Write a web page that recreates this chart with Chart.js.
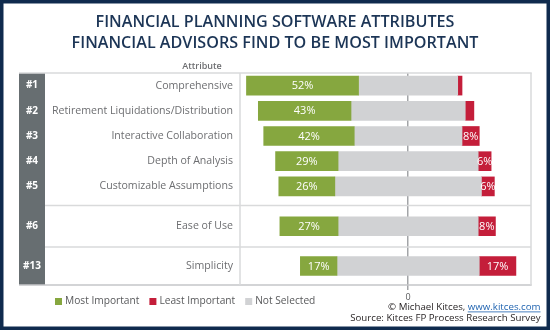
<!DOCTYPE html>
<html>
<head>
<meta charset="utf-8">
<script src="https://cdn.jsdelivr.net/npm/chart.js@4/dist/chart.umd.min.js"></script>
<style>
html,body{margin:0;padding:0;background:#0f2b4e;}
canvas{display:block;}
</style>
</head>
<body>
<canvas id="c" width="550" height="330"></canvas>
<script>
// ---- data ----
const ranks = ['#1', '#2', '#3', '#4', '#5', '#6', '#13'];
const attributes = [
  'Comprehensive',
  'Retirement Liquidations/Distribution',
  'Interactive Collaboration',
  'Depth of Analysis',
  'Customizable Assumptions',
  'Ease of Use',
  'Simplicity'
];
const mostImportant  = [52, 43, 42, 29, 26, 27, 17];
const leastImportant = [2, 4, 8, 6, 6, 8, 17];
const notSelected    = [46, 53, 50, 65, 68, 65, 66];
const sectionSizes   = [5, 1, 1];          // table groups (#1-#5, #6, #13)
const xTicks         = [0];
const titleLines = ['FINANCIAL PLANNING SOFTWARE ATTRIBUTES', 'FINANCIAL ADVISORS FIND TO BE MOST IMPORTANT'];
const legendItems = ['Most Important', 'Least Important', 'Not Selected'];

// ---- styles ----
const GREEN = '#86a73f', RED = '#c41e3a', GRAY = '#d1d2d4', NAVY = '#0f2b4e', TITLE = '#1c3556';
const TXT = '#6d6e71', LINE = '#d9dadb';
const FONT = '"Open Sans", "Noto Sans", sans-serif';

// build sections
const sections = [];
let start = 0;
sectionSizes.forEach((n, s) => { sections.push({ id: 'ys' + s, idx: Array.from({length: n}, (_, k) => start + k) }); start += n; });

const datasets = [];
sections.forEach(sec => {
  datasets.push({ label: 'Most Important', kind: 'most', yAxisID: sec.id, backgroundColor: GREEN,
    values: sec.idx.map(i => mostImportant[i]),
    data: sec.idx.map(i => [-(mostImportant[i] + notSelected[i] / 2), -notSelected[i] / 2]) });
  datasets.push({ label: 'Not Selected', kind: 'not', yAxisID: sec.id, backgroundColor: GRAY,
    values: sec.idx.map(i => notSelected[i]),
    data: sec.idx.map(i => [-notSelected[i] / 2, notSelected[i] / 2]) });
  datasets.push({ label: 'Least Important', kind: 'least', yAxisID: sec.id, backgroundColor: RED,
    values: sec.idx.map(i => leastImportant[i]),
    data: sec.idx.map(i => [notSelected[i] / 2, notSelected[i] / 2 + leastImportant[i]]) });
});

function yAxis(labels, weight, stackWeight, show) {
  return {
    type: 'category', labels, position: 'left', stack: 'rows', stackWeight, weight, offset: true,
    grid: { display: false, drawTicks: false }, border: { display: false },
    ticks: { display: show, autoSkip: false, padding: 7, color: TXT, font: { family: FONT, size: 10.6 } },
    afterFit: s => { s.width = 221; }
  };
}

const scales = {
  x: {
    type: 'linear', min: -78, max: 57, position: 'bottom', z: 1,
    afterBuildTicks: s => { s.ticks = xTicks.map(v => ({ value: v })); },
    afterFit: s => { s.height = 20; },
    grid: { color: '#a3a5a8', lineWidth: 1.5, tickLength: 5, drawOnChartArea: true },
    border: { display: false },
    ticks: { color: '#58595b', padding: 2, font: { family: FONT, size: 9 } }
  }
};
scales[sections[0].id] = yAxis(sections[0].idx.map(i => attributes[i]), 4, 126, true);
scales.ygap = yAxis([''], 3, 6.5, false);
scales[sections[1].id] = yAxis(sections[1].idx.map(i => attributes[i]), 2, 41.5, true);
scales[sections[2].id] = yAxis(sections[2].idx.map(i => attributes[i]), 1, 38, true);

const decor = {
  id: 'decor',
  beforeDraw(chart) {
    const ctx = chart.ctx;
    ctx.save();
    ctx.fillStyle = NAVY; ctx.fillRect(0, 0, 550, 330);
    ctx.fillStyle = '#ffffff'; ctx.fillRect(3.5, 3.5, 543, 323);
    // title
    ctx.fillStyle = TITLE; ctx.textAlign = 'center'; ctx.textBaseline = 'middle';
    ctx.font = '600 16px ' + FONT;
    const w = ctx.measureText(titleLines[1]).width;
    const size = 16 * 407 / w;
    ctx.font = '600 ' + size.toFixed(2) + 'px ' + FONT;
    ctx.fillText(titleLines[0], 275, 22);
    ctx.fillText(titleLines[1], 275, 43);
    // "Attribute"
    ctx.fillStyle = TXT; ctx.font = '600 9px ' + FONT;
    ctx.fillText('Attribute', 202, 66);
    ctx.restore();
  },
  beforeDatasetsDraw(chart) {
    const ctx = chart.ctx, ca = chart.chartArea;
    ctx.save();
    // rank column
    ctx.fillStyle = '#676e71';
    ctx.fillRect(19, ca.top, 26, ca.bottom - ca.top);
    ctx.fillStyle = '#ffffff'; ctx.font = '700 10px ' + FONT;
    ctx.textAlign = 'center'; ctx.textBaseline = 'middle';
    sections.forEach(sec => {
      const sc = chart.scales[sec.id];
      sec.idx.forEach((gi, k) => ctx.fillText(ranks[gi], 32, sc.getPixelForValue(k)));
    });
    // table lines
    ctx.strokeStyle = LINE; ctx.lineWidth = 1.5;
    const hline = (y, x0, x1, c) => { ctx.strokeStyle = c || LINE; ctx.beginPath(); ctx.moveTo(x0, y); ctx.lineTo(x1, y); ctx.stroke(); };
    hline(ca.top, 19, ca.right + 0.75);
    hline(chart.scales[sections[1].id].top, 45, ca.right);
    hline(chart.scales[sections[2].id].top, 45, ca.right);
    hline(ca.bottom, 19, ca.right + 0.75, '#c4c6c8');
    ctx.strokeStyle = LINE;
    ctx.beginPath(); ctx.moveTo(ca.left, ca.top); ctx.lineTo(ca.left, ca.bottom); ctx.stroke();
    ctx.beginPath(); ctx.moveTo(ca.right, ca.top); ctx.lineTo(ca.right, ca.bottom); ctx.stroke();
    ctx.restore();
  },
  afterDraw(chart) {
    const ctx = chart.ctx;
    ctx.save();
    // value labels
    ctx.fillStyle = '#ffffff'; ctx.font = '500 11px ' + FONT;
    ctx.textAlign = 'center'; ctx.textBaseline = 'middle';
    chart.data.datasets.forEach((ds, di) => {
      if (ds.kind === 'not') return;
      chart.getDatasetMeta(di).data.forEach((bar, j) => {
        const v = ds.values[j];
        if (v < 5) return;
        ctx.fillText(v + '%', (bar.x + bar.base) / 2, bar.y + 0.5);
      });
    });
    // legend
    const colors = [GREEN, RED, GRAY];
    ctx.font = '10.2px ' + FONT; ctx.textAlign = 'left';
    let x = 55; const ly = 301.5;
    legendItems.forEach((t, i) => {
      ctx.fillStyle = colors[i]; ctx.fillRect(x, ly - 3.5, 7, 7);
      ctx.fillStyle = '#58595b'; ctx.fillText(t, x + 10, ly);
      x += 10 + ctx.measureText(t).width + 10;
    });
    // footer
    ctx.textAlign = 'right'; ctx.font = '9.7px ' + FONT;
    const link = 'www.kitces.com';
    const lw = ctx.measureText(link).width;
    ctx.fillStyle = '#1f63b0'; ctx.fillText(link, 540.5, 307);
    ctx.fillRect(540.5 - lw, 311.5, lw, 0.8);
    ctx.fillStyle = '#231f20'; ctx.fillText('\u00A9 Michael Kitces, ', 540.5 - lw, 307);
    ctx.fillText('Source: Kitces FP Process Research Survey', 540.5, 318);
    ctx.restore();
  }
};

new Chart(document.getElementById('c'), {
  type: 'bar',
  data: { datasets },
  options: {
    indexAxis: 'y',
    responsive: false,
    animation: false,
    devicePixelRatio: 1,
    layout: { padding: { left: 19, right: 19, top: 73, bottom: 25 } },
    datasets: { bar: { grouped: false, barThickness: 19, borderWidth: 0 } },
    plugins: { legend: { display: false }, tooltip: { enabled: false }, title: { display: false } },
    scales
  },
  plugins: [decor]
});
</script>
</body>
</html>
